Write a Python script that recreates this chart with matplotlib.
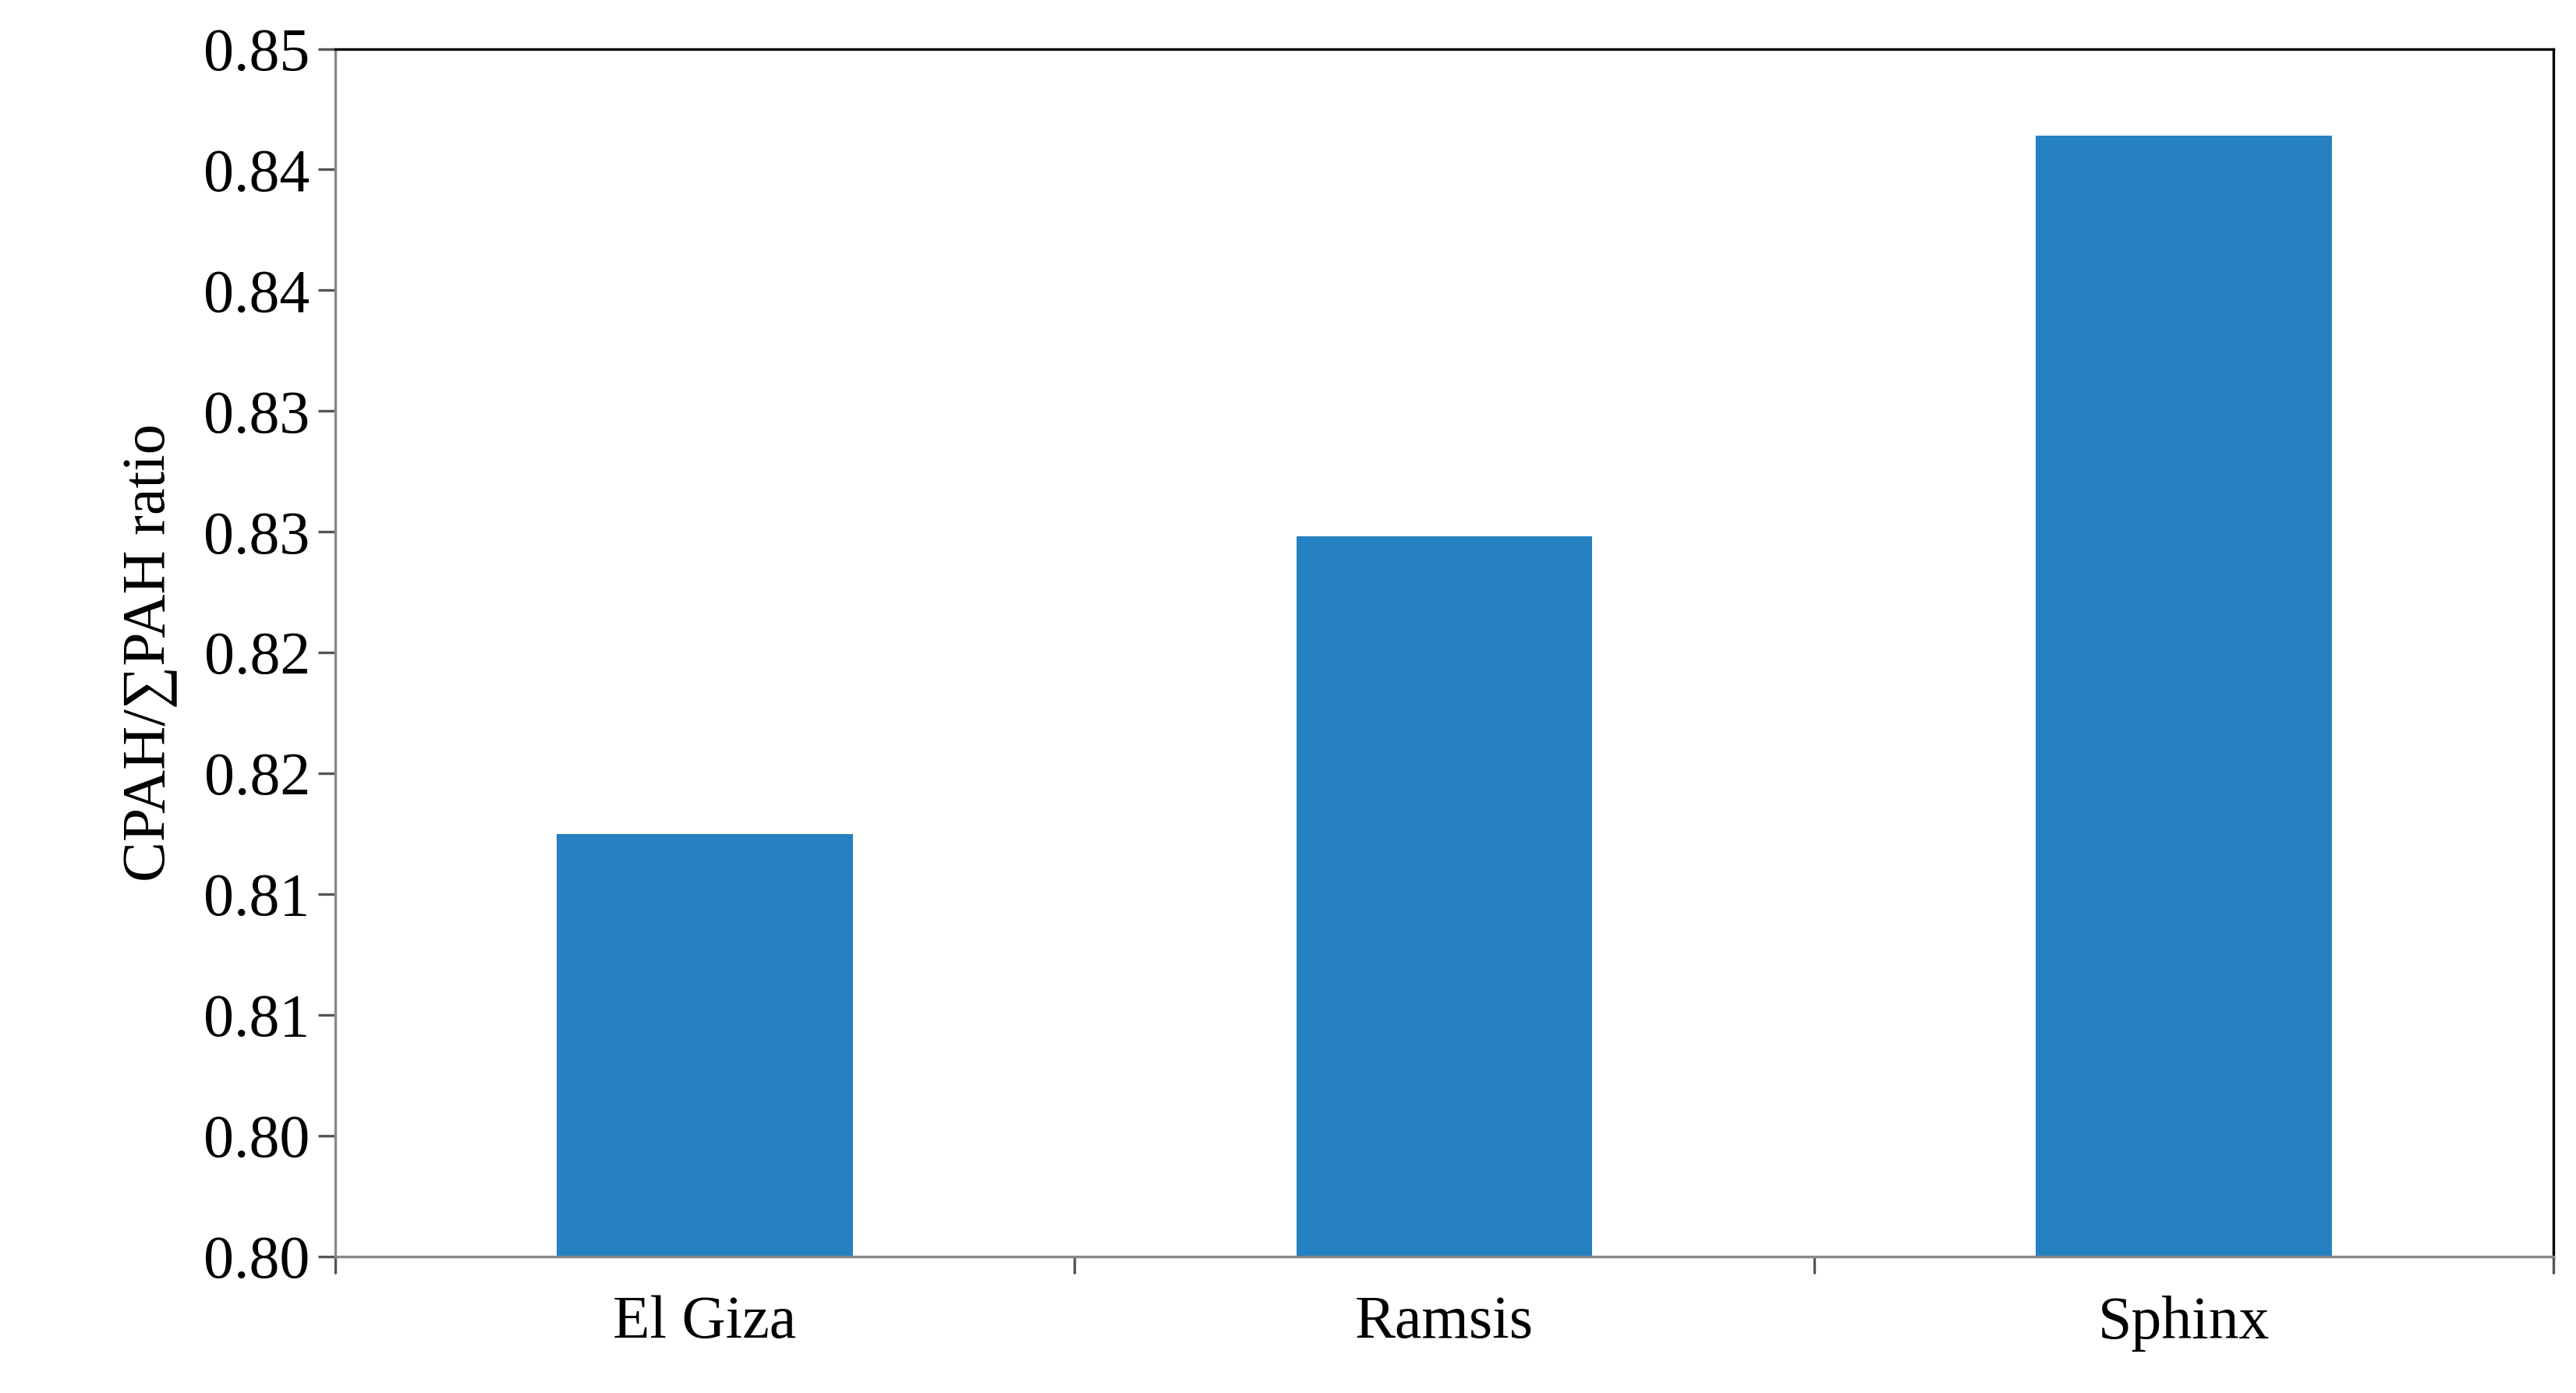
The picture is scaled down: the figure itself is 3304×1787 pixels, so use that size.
import numpy as np
import matplotlib
matplotlib.use('Agg')
import matplotlib.pyplot as plt

sites = ['El Giza', 'Ramsis', 'Sphinx']
ratio = [0.8175, 0.8298, 0.8464]
yticks = [0.800, 0.805, 0.810, 0.815, 0.820, 0.825, 0.830, 0.835, 0.840, 0.845, 0.850]
ytick_labels = ['0.80', '0.80', '0.81', '0.81', '0.82', '0.82', '0.83', '0.83', '0.84', '0.84', '0.85']

plt.rcParams['font.family'] = ['Liberation Serif', 'DejaVu Serif']
fig = plt.figure(figsize=(16.525, 8.935), dpi=200)
ax = fig.add_axes([0.13, 0.098, 0.861, 0.867])
x = np.arange(len(sites))
ax.bar(x, ratio, width=0.4, color='#2681C1')
ax.set_xlim(-0.5, 2.5)
ax.set_ylim(0.80, 0.85)
ax.set_yticks(yticks)
ax.set_yticklabels(ytick_labels, fontsize=28)
ax.set_xticks(x)
ax.set_xticklabels(sites, fontsize=28)
ax.set_xticks([-0.5, 0.5, 1.5, 2.5], minor=True)
ax.tick_params(axis='x', which='major', length=0, pad=18)
ax.tick_params(axis='x', which='minor', length=8, width=1.2, direction='out', color='#555555')
ax.tick_params(axis='y', length=8, width=1.2, direction='out', color='#555555')
for s in ax.spines.values():
    s.set_linewidth(1.2)
ax.spines['bottom'].set_color('#888888')
ax.spines['left'].set_color('#888888')
ax.set_ylabel('CPAH/∑PAH ratio', fontsize=28, labelpad=12)
fig.savefig('out.png', dpi=200)
